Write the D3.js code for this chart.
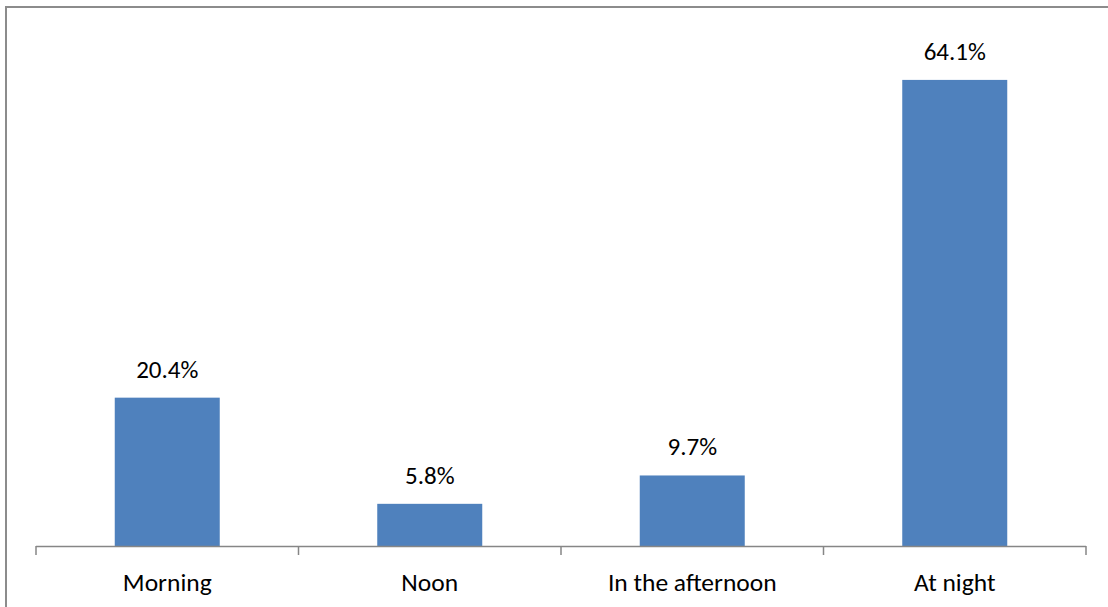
<!DOCTYPE html>
<html>
<head>
<meta charset="utf-8">
<script src="https://cdn.jsdelivr.net/npm/d3@7"></script>
<style>
  html, body { margin: 0; padding: 0; background: #fff; }
  svg { display: block; }
  text { font-family: Carlito, Lato, "Open Sans", sans-serif; }
</style>
</head>
<body>
<svg id="chart" width="1108" height="607"></svg>
<script>
// Share of responses by time of day (%)
const categories = ["Morning", "Noon", "In the afternoon", "At night"];
const values = [20.4, 5.8, 9.7, 64.1];
const valueLabels = ["20.4%", "5.8%", "9.7%", "64.1%"];

const svg = d3.select("#chart");

// Outer chart frame
svg.append("rect")
  .attr("x", 6).attr("y", 7)
  .attr("width", 1200).attr("height", 700)
  .attr("fill", "none")
  .attr("stroke", "#8c8c8c")
  .attr("stroke-width", 2);

const plot = { left: 36, right: 1086, top: 37, bottom: 546 };

const x = d3.scaleBand()
  .domain(categories)
  .range([plot.left, plot.right])
  .paddingInner(0.6)
  .paddingOuter(0.3);

const y = d3.scaleLinear()
  .domain([0, 70])
  .range([plot.bottom, plot.top]);

// Bars
svg.append("g").selectAll("rect")
  .data(categories)
  .join("rect")
  .attr("x", d => x(d))
  .attr("y", (d, i) => y(values[i]))
  .attr("width", x.bandwidth())
  .attr("height", (d, i) => y(0) - y(values[i]))
  .attr("fill", "#4F81BD");

// Value labels
svg.append("g").selectAll("text")
  .data(categories)
  .join("text")
  .attr("x", d => x(d) + x.bandwidth() / 2)
  .attr("y", (d, i) => y(values[i]) - 20)
  .attr("text-anchor", "middle")
  .attr("font-size", 25)
  .attr("fill", "#000")
  .text((d, i) => valueLabels[i]);

// Category axis with boundary ticks between bands
const axisG = svg.append("g");
axisG.append("line")
  .attr("x1", plot.left).attr("x2", plot.right)
  .attr("y1", plot.bottom + 0.5).attr("y2", plot.bottom + 0.5)
  .attr("stroke", "#868686").attr("stroke-width", 1.5);

const step = x.step();
const boundaries = d3.range(categories.length + 1).map(i => plot.left + i * step);
axisG.selectAll("line.tick")
  .data(boundaries)
  .join("line")
  .attr("class", "tick")
  .attr("x1", d => d).attr("x2", d => d)
  .attr("y1", plot.bottom).attr("y2", plot.bottom + 9)
  .attr("stroke", "#868686").attr("stroke-width", 1.5);

axisG.selectAll("text")
  .data(categories)
  .join("text")
  .attr("x", d => x(d) + x.bandwidth() / 2)
  .attr("y", plot.bottom + 45)
  .attr("text-anchor", "middle")
  .attr("font-size", 25.5)
  .attr("fill", "#000")
  .text(d => d);
</script>
</body>
</html>
